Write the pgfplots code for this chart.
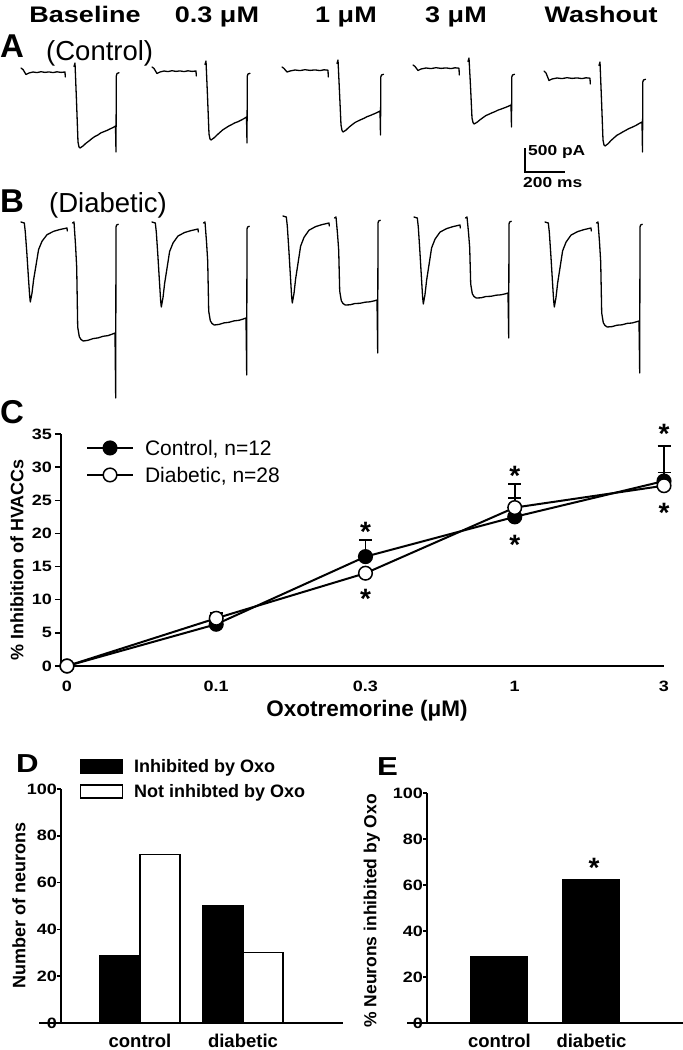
\documentclass[border=0pt]{standalone}
\usepackage{fontspec}
\setmainfont{Liberation Sans}
\newfontfamily\stretchf{Liberation Sans}[FakeStretch=1.2]
\usepackage{pgfplots}
\pgfplotsset{compat=1.18}
\newcommand\tickfont{\stretchf\bfseries\fontsize{15}{17}\selectfont}
\newcommand\barfont{\stretchf\bfseries\fontsize{14.5}{17}\selectfont}
\newcommand\headfont{\stretchf\bfseries\fontsize{22.5}{26}\selectfont}
\newcommand\letterfont{\bfseries\fontsize{33}{36}\selectfont}
\newcommand\letterfontb{\stretchf\bfseries\fontsize{26}{30}\selectfont}
\newcommand\starfont{\bfseries\fontsize{28}{30}\selectfont}
\tikzset{trace/.style={black, line width=1.3pt, line join=round, line cap=round, mark=none},
  star/.style={font=\starfont, anchor=north, inner sep=0pt}}
\begin{document}
\begin{tikzpicture}
\useasboundingbox (0pt,0pt) rectangle (683pt,1050pt);
% ---------------- Panels A and B: current traces (image pixel units) ----------------
\begin{axis}[at={(0pt,0pt)}, anchor=south west, scale only axis, width=683pt, height=1050pt,
  xmin=0, xmax=683, ymin=0, ymax=1050, y dir=reverse, axis lines=none, clip=false]
% headers
\node[font=\headfont, anchor=base] at (axis cs:85,23) {Baseline};
\node[font=\headfont, anchor=base] at (axis cs:217,23) {0.3 μM};
\node[font=\headfont, anchor=base] at (axis cs:346,23) {1 μM};
\node[font=\headfont, anchor=base] at (axis cs:456,23) {3 μM};
\node[font=\headfont, anchor=base] at (axis cs:601,23) {Washout};
\node[font=\letterfont, anchor=base west, inner sep=0pt] at (axis cs:0,57) {A};
\node[font=\fontsize{27.5}{30}\selectfont, anchor=base west, inner sep=0pt] at (axis cs:46,60) {(Control)};
\node[font=\letterfont, anchor=base west, inner sep=0pt] at (axis cs:0,212) {B};
\node[font=\fontsize{27.5}{30}\selectfont, anchor=base west, inner sep=0pt] at (axis cs:49,212) {(Diabetic)};
\node[font=\letterfont, anchor=base west, inner sep=0pt] at (axis cs:0,423) {C};
\node[font=\letterfontb, anchor=base west, inner sep=0pt] at (axis cs:16,772) {D};
\node[font=\letterfontb, anchor=base west, inner sep=0pt] at (axis cs:377,775) {E};
% scale bar
\addplot[black, line width=1.5pt] coordinates {(525,148) (525,172) (565,172)};
\node[font=\barfont, anchor=base west, inner sep=0pt] at (axis cs:528,155) {500 pA};
\node[font=\barfont, anchor=base west, inner sep=0pt] at (axis cs:523,187) {200 ms};
% A traces
\addplot[trace] coordinates {(21,68) (23,69.5) (26,74.5) (29,73) (33,72) (37,72.6) (41,71.7) (45,72.4) (49,71.9) (53,72.6) (57,71.8) (61,72.4) (65,72) (65.3,77)};
\addplot[trace] coordinates {(74,66.5) (75,63) (76.5,101) (78,142) (79,147) (80,148) (83,146) (86,143.2) (89,141) (92,138.5) (95,136.4) (98,134.9) (101,132.8) (104,131.6) (107,130.4) (110,128.9) (113,127.6) (115.5,126) (116,152) (116.3,76) (117,73.5) (119,72.7)};
\addplot[trace] coordinates {(152,67) (154,68.5) (157,73.5) (160,72) (164,71) (168,71.6) (172,70.7) (176,71.4) (180,70.9) (184,71.6) (188,70.8) (192,71.4) (196,71) (196.3,76)};
\addplot[trace] coordinates {(205,64.5) (206,61) (207.5,96) (209,134) (210,139) (211,140) (214,137.9) (217,135) (220,132.3) (223,129.7) (226,127.8) (229,125.9) (232,124.4) (235,122.8) (238,121.7) (241,120.2) (244,118.6) (246.5,117) (247,143) (247.3,76) (248,74) (250,73.3)};
\addplot[trace] coordinates {(282,67) (284,68.5) (287,72) (290,71) (295,70) (300,70.6) (305,69.7) (310,70.4) (315,69.9) (320,70.6) (324,69.8) (328,70.2) (328.3,77)};
\addplot[trace] coordinates {(337,63.5) (338,60) (339.5,92) (341,125) (342,130.5) (343,132) (346,130.1) (349,127.2) (352,124.8) (355,122.5) (358,121) (361,119.6) (364,118.3) (367,116.7) (370,115.6) (374,113.9) (377,112.6) (380,111) (380.5,135) (380.8,77) (381.5,75) (383.5,74.3)};
\addplot[trace] coordinates {(413,65) (415,66.5) (418,70.5) (421,69) (426,68) (431,68.6) (436,67.7) (441,68.4) (446,67.9) (451,68.6) (455,67.8) (459,68.2) (459.3,75)};
\addplot[trace] coordinates {(468,61.5) (469,58) (470.5,86) (472,118) (473,122.5) (474,124) (477,122.3) (480,119.8) (483,117.6) (486,115.5) (489,114.2) (492,112.8) (495,111.6) (498,110.1) (501,109.1) (505,107.6) (508,106.4) (511,105) (511.5,127) (511.8,77) (512.5,75) (514.5,74.3)};
\addplot[trace] coordinates {(544,71) (546,73) (549,80.5) (552,79) (557,78) (562,78.6) (567,77.7) (572,78.4) (577,77.9) (582,78.6) (586,77.8) (590,78.2) (590.3,84)};
\addplot[trace] coordinates {(599,65.5) (600,62) (601.5,100) (603,140) (604,145) (605,146) (608,143.8) (611,140.5) (614,137.8) (617,135.2) (620,133.6) (623,131.8) (626,130.2) (629,128.5) (632,127.3) (636,125.4) (639,123.6) (642,122) (642.5,152) (642.8,82) (643.5,80) (645.5,79.3)};
% B traces
\addplot[trace] coordinates {(21,222) (24.3,223) (25.3,232) (26.8,252.4) (28.3,275.6) (29.6,295) (30.3,302) (32,293.1) (33.6,279.8) (36.3,263.5) (38.6,249.5) (42,241.3) (47,234.7) (53.6,231.3) (60,229.5) (67,228) (67.3,231)};
\addplot[trace] coordinates {(72.5,223) (74,222) (75.5,244.6) (76.7,267.2) (77.7,327) (79.3,336.7) (81,339.5) (83.3,341) (88,340.3) (93,338.6) (98,337.9) (103,336.3) (108,335.6) (112,334.2) (115,333) (115.7,398) (116,227) (116.6,225) (118.3,224.3)};
\addplot[trace] coordinates {(152,222) (155.3,223) (156.3,232) (157.8,254.3) (159.3,279) (160.6,300) (161.3,307) (163,297.6) (164.6,283.6) (167.3,266.4) (169.6,251.6) (173,243) (178,236) (184.6,232.5) (191,230.6) (198,229) (198.3,232)};
\addplot[trace] coordinates {(203.5,223) (205,222) (206.5,241.6) (207.7,261.1) (208.7,311) (210.3,320.7) (212,323.5) (214.3,325) (219,324.4) (224,322.9) (229,322.3) (234,320.9) (239,320.3) (243,319.1) (246,318) (246.7,375) (247,229) (247.6,227) (249.3,226.3)};
\addplot[trace] coordinates {(283,216) (286.3,217) (287.3,226) (288.8,249) (290.3,274.3) (291.6,296) (292.3,303) (294,293.4) (295.6,279) (298.3,261.4) (300.6,246.2) (304,237.4) (309,230.2) (315.6,226.6) (322,224.6) (329,223) (329.3,226)};
\addplot[trace] coordinates {(334.5,218) (336,217) (337.5,233.7) (338.7,250.4) (339.7,291) (341.3,300.7) (343,303.5) (345.3,305) (350,304.8) (355,303.5) (360,303.3) (365,302.2) (370,301.8) (374,300.9) (377,300) (377.7,353) (378,223) (378.6,221) (380.3,220.3)};
\addplot[trace] coordinates {(414,217) (417.3,218) (418.3,227) (419.8,250) (421.3,275.3) (422.6,297) (423.3,304) (425,294.5) (426.6,280.3) (429.3,262.9) (431.6,247.9) (435,239.2) (440,232.1) (446.6,228.6) (453,226.6) (460,225) (460.3,228)};
\addplot[trace] coordinates {(465.5,218) (467,217) (468.5,232.4) (469.7,247.8) (470.7,284) (472.3,293.7) (474,296.5) (476.3,298) (481,297.8) (486,296.5) (491,296.3) (496,295.2) (501,294.8) (505,293.9) (508,293) (508.7,338) (509,224) (509.6,222) (511.3,221.3)};
\addplot[trace] coordinates {(545,222) (548.3,223) (549.3,232) (550.8,254.3) (552.3,279) (553.6,300) (554.3,307) (556,297.5) (557.6,283.3) (560.3,265.9) (562.6,250.9) (566,242.2) (571,235.1) (577.6,231.6) (584,229.6) (591,228) (591.3,231)};
\addplot[trace] coordinates {(596.5,223) (598,222) (599.5,242) (600.7,261.9) (601.7,313) (603.3,322.7) (605,325.5) (607.3,327) (612,326.6) (617,325.2) (622,324.8) (627,323.4) (632,323) (636,321.9) (639,321) (639.7,373) (640,227) (640.6,225) (642.3,224.3)};
\end{axis}
% ---------------- Panel C ----------------
\begin{axis}[at={(61pt,384pt)}, anchor=south west, scale only axis, width=603pt, height=232pt,
  xmin=-0.04, xmax=4, ymin=0, ymax=35, clip=false,
  axis x line=bottom, axis y line=left, axis line style={line width=1.8pt,-},
  xtick={0,1,2,3,4}, xticklabels={0,0.1,0.3,1,3}, ytick={0,5,...,35},
  xtick align=inside, ytick align=outside, major tick length=6pt,
  xtick style={draw=none}, ytick style={line width=1.5pt,black},
  tick label style={font=\tickfont}, /pgf/number format/assume math mode=true,
  xticklabel style={anchor=base, inner sep=0pt, yshift=-26pt},
  yticklabel style={anchor=east, inner sep=0pt, xshift=-3pt},
  xlabel={Oxotremorine (μM)}, ylabel={\% Inhibition of HVACCs},
  xlabel style={at={(axis description cs:0.5075,-0.2198)}, anchor=base, inner sep=0pt, font=\bfseries\fontsize{22.5}{26}\selectfont},
  ylabel style={at={(axis description cs:-0.073,0.457)}, anchor=center, inner sep=0pt, font=\bfseries\fontsize{18}{20}\selectfont},
  legend style={at={(0.0415,0.998)}, anchor=north west, draw=none, fill=none, inner sep=0pt, outer sep=0pt, row sep=0pt,
    font=\fontsize{21}{24}\selectfont, nodes={inner sep=0pt, text height=21pt, text depth=6pt},
    /tikz/every odd column/.append style={column sep=11pt}},
  legend cell align=left,
  legend image code/.code={\draw[#1, mark repeat=2, mark phase=2] plot coordinates {(0pt,0pt) (23pt,0pt) (46pt,0pt)};}]
\addplot[black, line width=2pt, mark=*, mark size=6.8pt, mark options={fill=black, line width=1.5pt},
  error bars/.cd, y dir=plus, y explicit, error bar style={line width=1.8pt},
  error mark options={rotate=90, mark size=6.5pt, line width=1.8pt}]
  coordinates {(0,0) (1,6.3) (2,16.5) +- (0,2.5) (3,22.5) +- (0,2.9) (4,27.9) +- (0,5.3)};
\addlegendentry{Control, n=12}
\addplot[black, line width=2pt, mark=*, mark size=6.8pt, mark options={fill=white, line width=1.5pt},
  error bars/.cd, y dir=plus, y explicit, error bar style={line width=1.8pt},
  error mark options={rotate=90, mark size=6.5pt, line width=1.8pt}]
  coordinates {(0,0) (1,7.2) +- (0,0.8) (2,14.0) (3,23.9) +- (0,3.6) (4,27.2) +- (0,2.0)};
\addlegendentry{Diabetic, n=28}
\node[star] at (axis cs:2,21.65) {*};
\node[star] at (axis cs:2,11.54) {*};
\node[star] at (axis cs:3,30.1) {*};
\node[star] at (axis cs:3,19.69) {*};
\node[star] at (axis cs:4,36.43) {*};
\node[star] at (axis cs:4,24.51) {*};
\end{axis}
% ---------------- Panel D ----------------
\begin{axis}[at={(61pt,27pt)}, anchor=south west, scale only axis, width=282pt, height=234pt,
  xmin=-0.767, xmax=1.971, ymin=0, ymax=100, clip=false,
  axis x line=bottom, axis y line=left, axis line style={line width=1.8pt,-},
  xtick={0,1}, xticklabels={control,diabetic}, ytick={0,20,...,100},
  xtick align=inside, ytick align=outside, major tick length=4pt,
  xtick style={draw=none}, ytick style={line width=1.5pt,black},
  yticklabel style={font=\tickfont, anchor=east, inner sep=0pt}, /pgf/number format/assume math mode=true,
  xticklabel style={font=\bfseries\fontsize{18.5}{20}\selectfont, anchor=base, inner sep=0pt, yshift=-24pt},
  ylabel={Number of neurons},
  ylabel style={at={(axis description cs:-0.149,0.504)}, anchor=center, inner sep=0pt, font=\bfseries\fontsize{18}{20}\selectfont},
  legend style={at={(0.0674,1.1496)}, anchor=north west, draw=none, fill=none, inner sep=0pt, outer sep=0pt, row sep=0pt,
    font=\bfseries\fontsize{18}{20}\selectfont, nodes={inner sep=0pt, text height=19pt, text depth=6pt},
    /tikz/every odd column/.append style={column sep=11pt}},
  legend cell align=left]
\addlegendimage{legend image code/.code={\draw[black, line width=1.2pt, fill=black] (0pt,-6.5pt) rectangle (42pt,6.5pt);}}
\addlegendentry{Inhibited by Oxo}
\addlegendimage{legend image code/.code={\draw[black, line width=1.2pt, fill=white] (0pt,-6.5pt) rectangle (42pt,6.5pt);}}
\addlegendentry{Not inhibted by Oxo}
\addplot[ybar, bar width=40pt, bar shift=-20pt, fill=black, draw=black, line width=1.2pt, forget plot] coordinates {(0,29) (1,50)};
\addplot[ybar, bar width=40pt, bar shift=20pt, fill=white, draw=black, line width=1.2pt, forget plot] coordinates {(0,72) (1,30)};
\draw[line width=1.8pt] (rel axis cs:0,0) -- ++(-22pt,0pt);
\end{axis}
% ---------------- Panel E ----------------
\begin{axis}[at={(427pt,27pt)}, anchor=south west, scale only axis, width=256pt, height=230pt,
  xmin=-0.788, xmax=1.995, ymin=0, ymax=100, clip=false,
  axis x line=bottom, axis y line=left, axis line style={line width=1.8pt,-},
  xtick={0,1}, xticklabels={control,diabetic}, ytick={0,20,...,100},
  xtick align=inside, ytick align=outside, major tick length=4pt,
  xtick style={draw=none}, ytick style={line width=1.5pt,black},
  yticklabel style={font=\tickfont, anchor=east, inner sep=0pt}, /pgf/number format/assume math mode=true,
  xticklabel style={font=\bfseries\fontsize{18.5}{20}\selectfont, anchor=base, inner sep=0pt, yshift=-24pt},
  ylabel={\% Neurons inhibited by Oxo},
  ylabel style={at={(axis description cs:-0.215,0.487)}, anchor=center, inner sep=0pt, font=\bfseries\fontsize{17.5}{20}\selectfont}]
\addplot[ybar, bar width=57pt, fill=black, draw=black, line width=1pt] coordinates {(0,28.7) (1,62.5)};
\node[star] at (axis cs:1.027,71.7) {*};
\draw[line width=1.8pt] (rel axis cs:0,0) -- ++(-20pt,0pt);
\end{axis}
\end{tikzpicture}
\end{document}
